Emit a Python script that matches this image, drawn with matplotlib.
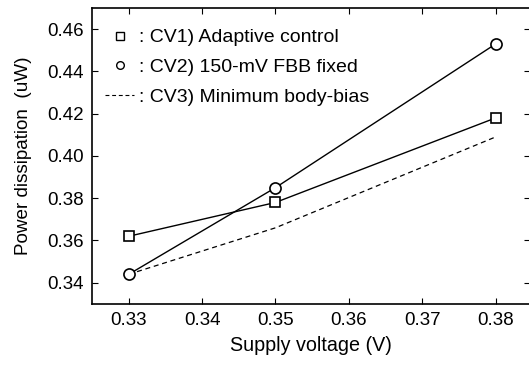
import matplotlib.pyplot as plt
from matplotlib.lines import Line2D

plt.rcParams['font.family'] = ['Liberation Sans', 'DejaVu Sans']

voltage = [0.33, 0.35, 0.38]
cv1_adaptive = [0.362, 0.378, 0.418]
cv2_fbb_fixed = [0.344, 0.385, 0.453]
cv3_min_bias = [0.344, 0.366, 0.409]

labels = [': CV1) Adaptive control', ': CV2) 150-mV FBB fixed', ': CV3) Minimum body-bias']
x_ticks = [0.33, 0.34, 0.35, 0.36, 0.37, 0.38]
y_ticks = [0.34, 0.36, 0.38, 0.40, 0.42, 0.44, 0.46]

fig = plt.figure(figsize=(5.29, 3.67), dpi=100)
# right spine sits on the figure edge
ax = fig.add_axes([0.174, 0.172, 0.828, 0.806])

ax.plot(voltage, cv3_min_bias, color='black', lw=0.9, ls=(0, (4, 3)))
ax.plot(voltage, cv1_adaptive, color='black', lw=1.0, marker='s', ms=7.5,
        mfc='white', mec='black', mew=1.2)
ax.plot(voltage, cv2_fbb_fixed, color='black', lw=1.0, marker='o', ms=8,
        mfc='white', mec='black', mew=1.2)

ax.set_xlim(0.325, 0.3847)
ax.set_ylim(0.33, 0.47)
ax.set_xticks(x_ticks)
ax.set_yticks(y_ticks)
ax.set_xticklabels(['%.2f' % v for v in x_ticks])
ax.set_yticklabels(['%.2f' % v for v in y_ticks])
ax.tick_params(direction='in', top=True, right=True, labelsize=13.5, length=4, pad=6)
for s in ax.spines.values():
    s.set_linewidth(1.2)

ax.set_xlabel('Supply voltage (V)', fontsize=14.2, labelpad=5)
ax.set_ylabel('Power dissipation  (uW)', fontsize=13.6, labelpad=11)

handles = [
    Line2D([], [], ls='none', marker='s', ms=5.5, mfc='white', mec='black', mew=1.0),
    Line2D([], [], ls='none', marker='o', ms=5.5, mfc='white', mec='black', mew=1.0),
    Line2D([], [], color='black', lw=0.8, ls=(0, (3.5, 2.5))),
]
ax.legend(handles, labels, loc='upper left', frameon=False, fontsize=14,
          handlelength=1.5, handletextpad=0.25, labelspacing=0.62,
          borderaxespad=0.0, borderpad=0.0, bbox_to_anchor=(0.03, 0.93))

fig.savefig('out.png', dpi=100)
